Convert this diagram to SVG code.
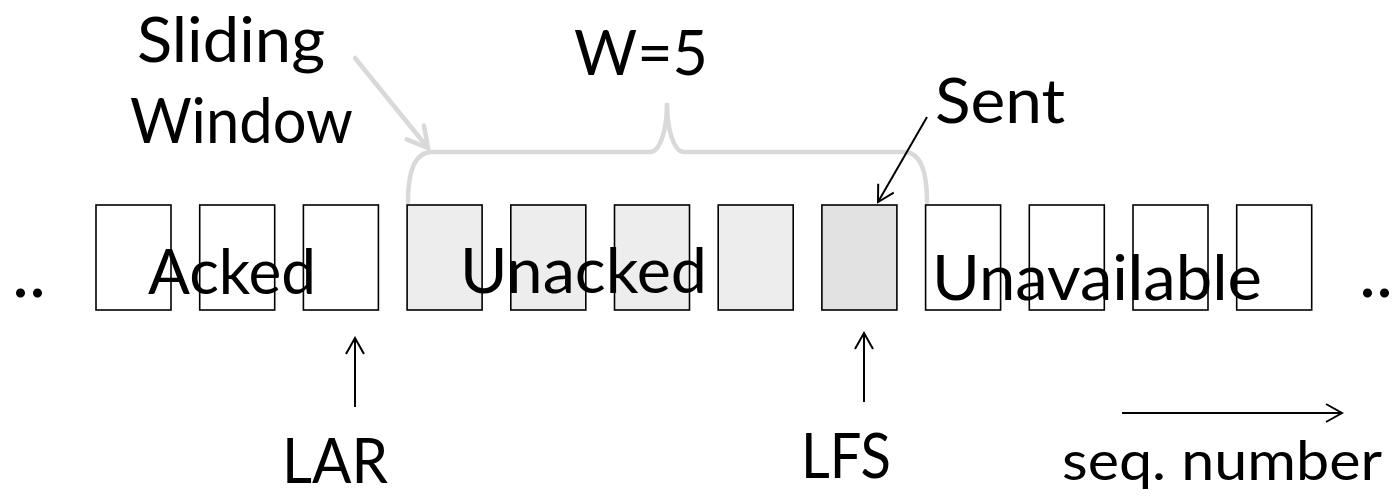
<svg xmlns="http://www.w3.org/2000/svg" width="1396" height="498" viewBox="0 0 1396 498">
<style>
.t{font-family:Lato,"Open Sans","Liberation Sans",sans-serif;font-size:61px;fill:#000}
.s{font-size:55px}
.d{font-size:72px}
.box{stroke:#000;stroke-width:1.6;fill:#fff}
.un{fill:#ededed}
.lfs{fill:#e2e2e2}
.arr{stroke:#000;stroke-width:2;fill:none}
.gray{stroke:#d9d9d9;stroke-width:4.5;fill:none;stroke-linecap:round}
</style>
<defs>
<marker id="ah" viewBox="0 0 20 20" refX="18" refY="10" markerWidth="20" markerHeight="20" markerUnits="userSpaceOnUse" orient="auto">
<path d="M2,1 L18,10 L2,19" fill="none" stroke="#000" stroke-width="2"/>
</marker>
<marker id="ahg" viewBox="0 0 26 26" refX="23" refY="13" markerWidth="26" markerHeight="26" markerUnits="userSpaceOnUse" orient="auto">
<path d="M3,2 L23,13 L3,24" fill="none" stroke="#d9d9d9" stroke-width="4.5" stroke-linecap="round"/>
</marker>
</defs>
<rect width="1396" height="498" fill="#fff"/>
<g id="brace">
<path class="gray" d="M408 202 C408 170 416 152 432 152 L650 152 C660 152 667 130 667 103 C667 130 674 152 684 152 L904 152 C920 152 927 170 927 202"/>
</g>
<g id="boxes">
<g id="box1"><rect class="box" x="96" y="205" width="75" height="105"/></g>
<g id="box2"><rect class="box" x="199.7" y="205" width="75" height="105"/></g>
<g id="box3"><rect class="box" x="303.4" y="205" width="75" height="105"/></g>
<g id="box4"><rect class="box un" x="407.1" y="205" width="75" height="105"/></g>
<g id="box5"><rect class="box un" x="510.8" y="205" width="75" height="105"/></g>
<g id="box6"><rect class="box un" x="614.5" y="205" width="75" height="105"/></g>
<g id="box7"><rect class="box un" x="718.2" y="205" width="75" height="105"/></g>
<g id="box8"><rect class="box lfs" x="821.9" y="205" width="75" height="105"/></g>
<g id="box9"><rect class="box" x="925.6" y="205" width="75" height="105"/></g>
<g id="box10"><rect class="box" x="1029.3" y="205" width="75" height="105"/></g>
<g id="box11"><rect class="box" x="1133" y="205" width="75" height="105"/></g>
<g id="box12"><rect class="box" x="1236.7" y="205" width="75" height="105"/></g>
</g>
<g id="connectors">
<line class="gray" x1="355" y1="58" x2="428" y2="148" marker-end="url(#ahg)"/>
<line class="arr" x1="927" y1="117" x2="878" y2="202" marker-end="url(#ah)"/>
<line class="arr" x1="355" y1="407" x2="355" y2="338" marker-end="url(#ah)"/>
<line class="arr" x1="864" y1="402" x2="864" y2="333" marker-end="url(#ah)"/>
<line class="arr" x1="1122" y1="413" x2="1342" y2="413" marker-end="url(#ah)"/>
</g>
<g id="labels">
<text id="sliding" class="t" x="137" y="62" textLength="188" lengthAdjust="spacingAndGlyphs">Sliding</text>
<text id="window" class="t" x="130" y="143" textLength="223" lengthAdjust="spacingAndGlyphs">Window</text>
<text id="w5" class="t" x="574" y="75" textLength="134" lengthAdjust="spacingAndGlyphs">W=5</text>
<text id="sent" class="t" x="935" y="123" textLength="130" lengthAdjust="spacingAndGlyphs">Sent</text>
<text id="acked" class="t" x="148" y="294" textLength="168" lengthAdjust="spacingAndGlyphs">Acked</text>
<text id="unacked" class="t" x="460" y="293" textLength="247" lengthAdjust="spacingAndGlyphs">Unacked</text>
<text id="unavailable" class="t" x="932" y="300" textLength="330" lengthAdjust="spacingAndGlyphs">Unavailable</text>
<text id="dotsL" class="t d" x="12" y="297" textLength="34" lengthAdjust="spacing">..</text>
<text id="dotsR" class="t d" x="1359" y="297" textLength="34" lengthAdjust="spacing">..</text>
<text id="lar" class="t" x="282" y="483" textLength="106" lengthAdjust="spacingAndGlyphs">LAR</text>
<text id="lfs" class="t" x="801" y="478" textLength="90" lengthAdjust="spacingAndGlyphs">LFS</text>
<text id="seq" class="t s" x="1062" y="480" textLength="320" lengthAdjust="spacingAndGlyphs">seq. number</text>
</g>
</svg>
